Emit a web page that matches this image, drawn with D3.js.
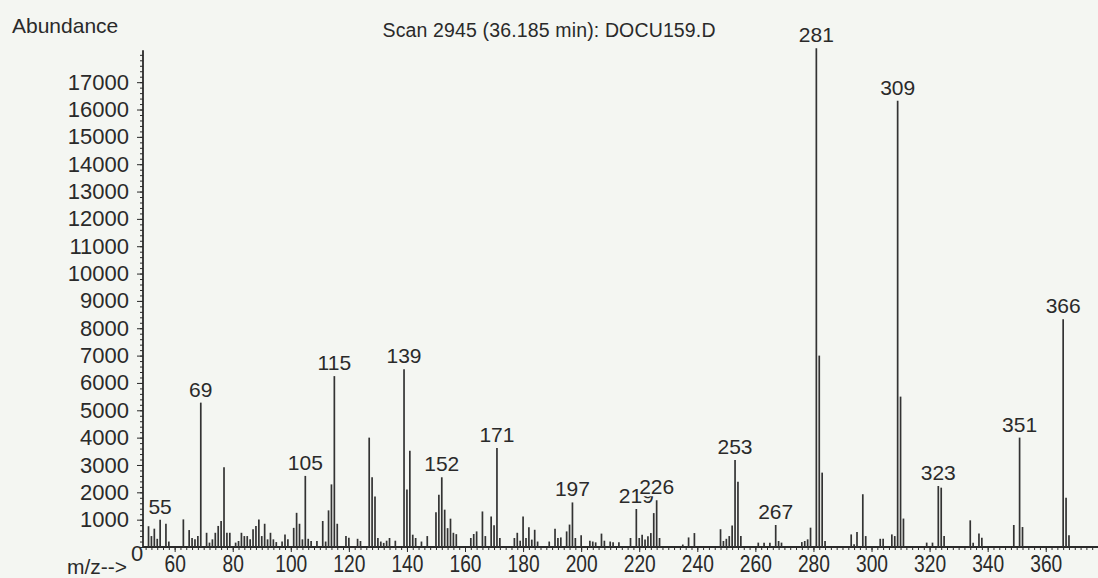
<!DOCTYPE html>
<html>
<head>
<meta charset="utf-8">
<script src="https://cdnjs.cloudflare.com/ajax/libs/d3/7.8.5/d3.min.js"></script>
<style>
  html, body { margin: 0; padding: 0; background: #f4f6f2; }
  svg { display: block; }
  text { font-family: "Liberation Sans", Arial, sans-serif; fill: #2a2a2a; }
</style>
</head>
<body>
<svg id="chart" width="1098" height="578"></svg>
<script>
// ---- data ----
const titleText = "Scan 2945 (36.185 min): DOCU159.D";
const yAxisTitle = "Abundance";
const xAxisTitle = "m/z-->";

const mz = [
  51, 52, 53, 54, 55, 57, 58, 63, 65, 66, 67, 68, 69, 71, 72, 73, 74, 75, 76, 77, 78, 79,
  81, 82, 83, 84, 85, 86, 87, 88, 89, 90, 91, 92, 93, 94, 95, 97, 98, 99, 101, 102, 103,
  104, 105, 106, 107, 109, 111, 112, 113, 114, 115, 116, 119, 120, 123, 124, 127, 128,
  129, 130, 131, 132, 133, 134, 136, 139, 140, 141, 142, 143, 145, 147, 150, 151, 152,
  153, 154, 155, 156, 157, 162, 163, 164, 166, 167, 169, 170, 171, 172, 177, 178, 179,
  180, 181, 182, 183, 184, 185, 189, 191, 192, 193, 195, 196, 197, 198, 200, 203, 204,
  205, 207, 208, 210, 211, 213, 217, 219, 220, 221, 222, 223, 224, 225, 226, 227, 235,
  237, 239, 248, 249, 250, 251, 252, 253, 254, 255, 261, 263, 265, 267, 268, 269, 276,
  277, 278, 279, 281, 282, 283, 284, 293, 294, 295, 297, 298, 303, 304, 307, 308, 309,
  310, 311, 319, 321, 323, 324, 325, 334, 335, 337, 338, 349, 351, 352, 366, 367, 368
];
const abundance = [
  760, 400, 670, 300, 1000, 850, 200, 1010, 620, 330, 280, 400, 5280, 520, 160, 280, 520, 770, 950, 2920, 520, 520,
  160, 220, 520, 400, 400, 280, 650, 770, 1010, 400, 850, 280, 520, 280, 180, 200, 460, 280, 700, 1250, 850,
  280, 2600, 300, 220, 220, 950, 200, 1340, 2290, 6250, 850, 400, 340, 300, 220, 4000, 2550,
  1850, 330, 200, 150, 230, 330, 230, 6500, 2100, 3520, 450, 330, 200, 400, 1270, 1910, 2550,
  1365, 690, 1036, 520, 470, 330, 475, 570, 1300, 400, 1120, 800, 3620, 330, 330, 520, 230,
  1120, 330, 720, 270, 630, 200, 200, 670, 330, 350, 570, 820, 1630, 330, 430, 230, 200,
  170, 490, 230, 200, 170, 170, 330, 1390, 330, 450, 270, 390, 510, 1240, 1710, 330, 90,
  350, 510, 650, 220, 300, 400, 790, 3180, 2390, 400, 160, 160, 160, 805, 220, 160, 180,
  220, 280, 707, 18240, 7000, 2720, 220, 460, 100, 550, 1930, 400, 300, 300, 460, 400, 16320,
  5500, 1040, 160, 160, 2230, 2170, 400, 975, 160, 490, 340, 805, 4000, 730, 8330, 1800, 430
];
const labeledPeaks = [55, 69, 105, 115, 139, 152, 171, 197, 219, 226, 253, 267, 281, 309, 323, 351, 366];

const yMajorTicks = d3.range(1000, 17001, 1000);
const yMinorTicks = d3.range(0, 18001, 200);
const xMajorTicks = d3.range(60, 361, 20);
const xMinorTicks = d3.range(50, 378, 2);

// ---- layout ----
const svg = d3.select("#chart");
const ink = "#2a2a2a";
const bg = "#f4f6f2";
const baseY = 547, topY = 48;
const x = d3.scaleLinear().domain([49.1, 378]).range([143, 1098]);
const y = d3.scaleLinear().domain([0, 18250]).range([baseY, topY]);

// header texts
svg.append("text").attr("x", 12).attr("y", 33).attr("font-size", 21).text(yAxisTitle);
svg.append("text").attr("x", 549).attr("y", 37).attr("font-size", 19.5)
  .attr("text-anchor", "middle").attr("textLength", 333).text(titleText);

// y axis
const yMinor = svg.append("g").attr("transform", `translate(${x(49.1)},0)`)
  .call(d3.axisLeft(y).tickValues(yMinorTicks).tickSize(3).tickFormat(""));
yMinor.select(".domain").remove();
yMinor.selectAll("line").attr("stroke", ink);
const yMajor = svg.append("g").attr("transform", `translate(${x(49.1)},0)`)
  .call(d3.axisLeft(y).tickValues(yMajorTicks).tickSize(6).tickPadding(8).tickFormat(d3.format("d")));
yMajor.select(".domain").remove();
yMajor.selectAll("line").attr("stroke", ink);
yMajor.selectAll("text").attr("font-size", 22).attr("fill", ink)
  .attr("font-family", "Liberation Sans, Arial, sans-serif");
svg.append("line").attr("x1", x(49.1)).attr("x2", x(49.1))
  .attr("y1", baseY).attr("y2", y(18170)).attr("stroke", ink).attr("stroke-width", 1.8);

// x axis
const xMinor = svg.append("g").attr("transform", `translate(0,${baseY})`)
  .call(d3.axisBottom(x).tickValues(xMinorTicks).tickSize(3).tickFormat(""));
xMinor.select(".domain").remove();
xMinor.selectAll("line").attr("stroke", ink);
const xMajor = svg.append("g").attr("transform", `translate(0,${baseY})`)
  .call(d3.axisBottom(x).tickValues(xMajorTicks).tickSize(5).tickPadding(3));
xMajor.select(".domain").remove();
xMajor.selectAll("line").attr("stroke", ink);
xMajor.selectAll("text").attr("font-size", 24).attr("fill", ink)
  .attr("font-family", "Liberation Sans, Arial, sans-serif")
  .attr("transform", "scale(0.8,1)");
svg.append("line").attr("x1", x(49.1)).attr("x2", 1098)
  .attr("y1", baseY).attr("y2", baseY).attr("stroke", ink).attr("stroke-width", 1.8);

svg.append("text").attr("x", 127).attr("y", 574).attr("font-size", 21)
  .attr("text-anchor", "end").text(xAxisTitle);
svg.append("text").attr("x", 131).attr("y", 561).attr("font-size", 22).text("0");

// peaks
const peaks = mz.map((m, i) => ({ m, v: abundance[i] }));
svg.append("g").selectAll("line").data(peaks).join("line")
  .attr("x1", d => x(d.m)).attr("x2", d => x(d.m))
  .attr("y1", baseY).attr("y2", d => y(d.v))
  .attr("stroke", "#333").attr("stroke-width", 1.7);

// peak labels (226 is drawn over 219, as in the reference)
const lab = svg.append("g");
labeledPeaks.forEach(m => {
  const v = abundance[mz.indexOf(m)];
  const by = y(v) - 6;
  if (m === 226) {
    lab.append("rect").attr("x", x(m) - 17).attr("y", by - 17)
      .attr("width", 35).attr("height", 19).attr("fill", bg);
  }
  lab.append("text").attr("x", x(m)).attr("y", by)
    .attr("text-anchor", "middle").attr("font-size", 21).text(m);
});
</script>
</body>
</html>
